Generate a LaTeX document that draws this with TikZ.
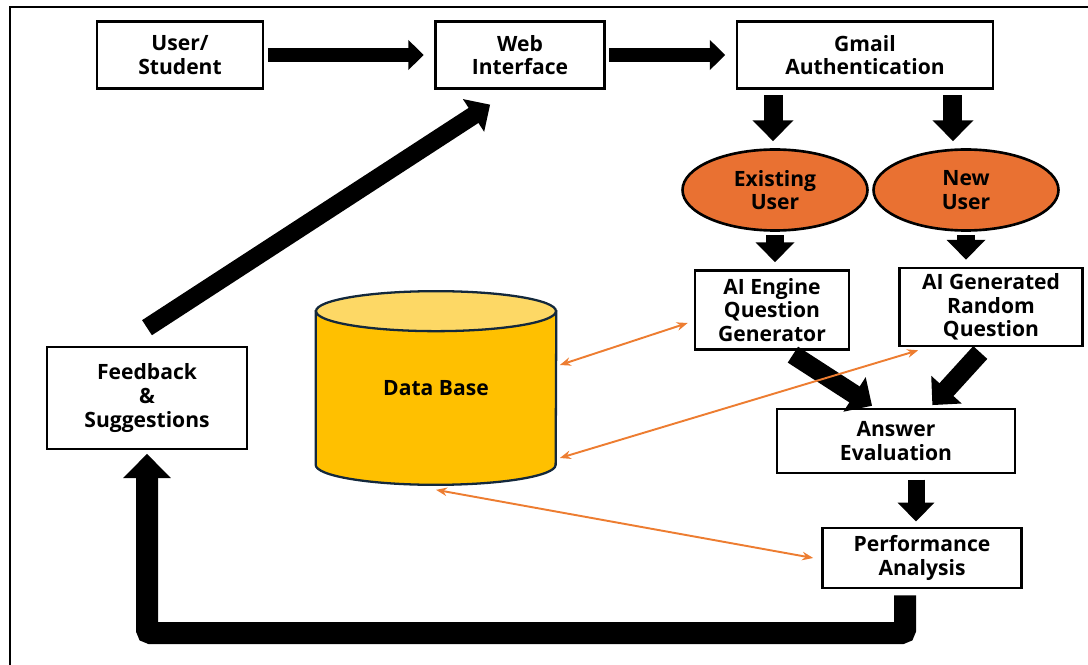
\documentclass[tikz,border=0pt]{standalone}
\usepackage{fontspec}
\setmainfont{Open Sans}
\usetikzlibrary{arrows.meta,shapes.geometric,backgrounds}
\definecolor{userorange}{HTML}{E97132}
\definecolor{linkorange}{HTML}{ED7D31}
\definecolor{dbbody}{HTML}{FFC000}
\definecolor{dbtop}{HTML}{FDD865}
\definecolor{dbedge}{HTML}{13283C}

\begin{document}
\begin{tikzpicture}[x=0.02cm, y=-0.02cm, main node/.style={draw, line width=1.5pt, fill=white, align=center, inner sep=2pt, font=\bfseries\fontsize{12}{13.5}\selectfont}, user node/.style={main node, ellipse, fill=userorange, minimum width=3.7cm, minimum height=1.62cm}, db node/.style={align=center, font=\bfseries\fontsize{12}{13.5}\selectfont, minimum width=4.8cm, minimum height=3.86cm}, db part/.style={draw=dbedge, line width=1.3pt}, big arrow/.style={line width=#1, -{Triangle[width=0pt 2.1, length=0pt 1.1]}}, link/.style={draw=linkorange, line width=1.1pt, {Stealth[length=0.22cm, width=0.17cm]}-{Stealth[length=0.22cm, width=0.17cm]}}]
\useasboundingbox (0,0) rectangle (1088,665);
\draw [line width=1.3pt] (10,7) rectangle (1110,690);

\node [main node, minimum width=3.32cm, minimum height=1.34cm] (user) at (180,55) {User/\\Student};
\node [main node, minimum width=3.38cm, minimum height=1.34cm] (web) at (520,55) {Web\\Interface};
\node [main node, minimum width=5.12cm, minimum height=1.34cm] (gmail) at (865,55) {Gmail\\Authentication};
\node [user node] (existing) at (775,190) {Existing\\User};
\node [user node] (new) at (966,190) {New\\User};
\node [main node, minimum width=3.08cm, minimum height=1.58cm] (engine) at (772,310) {AI Engine\\Question\\Generator};
\node [main node, minimum width=3.66cm, minimum height=1.56cm] (gen) at (991,307) {AI Generated\\Random\\Question};
\node [main node, minimum width=4.76cm, minimum height=1.28cm] (answer) at (896,441) {Answer\\Evaluation};
\node [main node, minimum width=3.98cm, minimum height=1.2cm] (perf) at (922,558) {Performance\\Analysis};
\node [main node, minimum width=4cm, minimum height=2.04cm] (fb) at (147,398) {Feedback\\\&\\Suggestions};
\node [db node] (db) at (436,388) {Data Base};
\coordinate (loop) at (905,633);

% cylinder behind the data base text
\begin{scope}[on background layer]
\filldraw [db part, fill=dbbody] ([yshift=-0.4cm]db.north west) -- ([yshift=0.4cm]db.south west) arc [start angle=180, end angle=360, x radius=2.4cm, y radius=0.4cm] -- ([yshift=-0.4cm]db.north east) -- cycle;
\filldraw [db part, fill=dbtop] ([yshift=-0.4cm]db.north) ellipse [x radius=2.4cm, y radius=0.4cm];
\end{scope}

\draw [big arrow=0.28cm, shorten <=2pt, shorten >=6pt] (user) -- (web);
\draw [big arrow=0.28cm, shorten <=2pt, shorten >=6pt] (web) -- (gmail);
\draw [big arrow=0.38cm, shorten <=3pt, shorten >=4pt] ([xshift=-1.84cm]gmail.south) -- ([xshift=-1.84cm]gmail.south |- existing.north);
\draw [big arrow=0.38cm, shorten <=3pt, shorten >=4pt] ([xshift=1.76cm]gmail.south) -- ([xshift=1.76cm]gmail.south |- new.north);
\draw [big arrow=0.36cm, shorten <=2pt, shorten >=4pt] (existing.south) -- (existing.south |- engine.north);
\draw [big arrow=0.36cm, shorten <=2pt, shorten >=4pt] (new.south) -- (new.south |- gen.north);
\draw [big arrow=0.38cm, shorten <=4pt, shorten >=2pt] ([xshift=0.3cm]engine.south) -- ([xshift=-0.42cm]answer.north);
\draw [big arrow=0.38cm, shorten <=4pt, shorten >=2pt] ([xshift=-0.12cm]gen.south) -- ([xshift=0.68cm]answer.north);
\draw [big arrow=0.34cm, shorten <=3pt, shorten >=3pt] ([xshift=-0.12cm]perf.north |- answer.south) -- ([xshift=-0.12cm]perf.north);
\draw [big arrow=0.36cm, shorten >=4pt] ([yshift=0.36cm]fb.north) -- ([xshift=-0.48cm,yshift=-0.22cm]web.south);
\draw [big arrow=0.44cm, rounded corners=2pt, shorten >=2pt] ([xshift=-0.34cm,yshift=-0.12cm]perf.south) -- (loop) -| (fb.south);

\draw [link] ([yshift=0.46cm,xshift=2pt]db.east) -- ([xshift=-0.12cm,yshift=-0.26cm]engine.west);
\draw [link] ([yshift=-1.4cm,xshift=2pt]db.east) -- ([xshift=0.4cm,yshift=-0.06cm]gen.south west);
\draw [link] ([yshift=-0.1cm]db.south) -- ([xshift=-0.16cm]perf.west);
\end{tikzpicture}
\end{document}
